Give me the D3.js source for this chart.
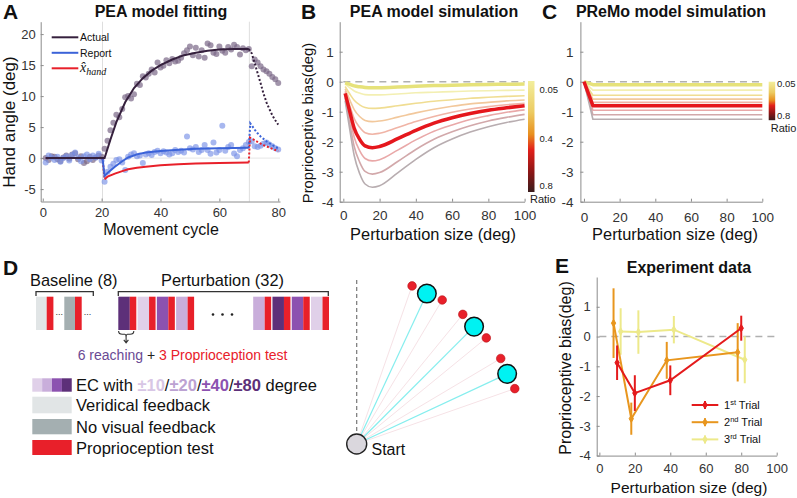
<!DOCTYPE html>
<html>
<head>
<meta charset="utf-8">
<script src="https://cdn.jsdelivr.net/npm/d3@7"></script>
<style>
  body { margin: 0; background: #fff; }
  svg { font-family: "Liberation Sans", Arial, sans-serif; }
  .axis path, .axis line { stroke: #8c8c8c; }
  .axis text { fill: #333; font-size: 13.5px; font-family: "Liberation Sans", Arial, sans-serif; }
  .axis.small text { font-size: 13px; }
</style>
</head>
<body>
<svg id="fig" width="797" height="498"></svg>
<script>
// ---------- data: panel A (hand angle per movement cycle) ----------
const cyclesA = d3.range(1, 81);
const actualDots = [
  0.0, -0.3, 0.3, 0.2, -0.2, -0.5, 0.1, 0.4, -0.1, 0.6, 0.8, -0.2, 0.3, -0.8, -0.5, 0.2, -0.3, 0.1, 0.4, 0.2,
  1.5, 2.8, 4.5, 5.7, 7.0, 6.6, 7.9, 9.8, 10.0, 9.6, 10.3, 12.0, 11.8, 13.2, 13.0, 13.6, 14.3, 13.8, 15.4, 14.6,
  14.9, 15.8, 15.3, 16.0, 15.6, 15.7, 16.2, 16.9, 17.4, 18.0, 16.6, 17.8, 16.4, 17.4, 16.2, 18.5, 18.2, 17.0, 16.8, 18.0,
  17.3, 17.0, 17.9, 17.5, 18.3, 17.9, 16.7, 17.7, 17.4, 17.6,
  14.8, 15.9, 15.4, 14.8, 14.3, 14.0, 13.6, 13.1, 12.7, 12.1
];
const reportDots = [
  -0.7, 0.4, 0.1, -0.3, 0.2, -0.6, 0.0, 0.3, -0.4, 0.5, 0.9, 0.1, -0.5, 0.3, 0.6, -0.2, 0.4, 0.1, 0.7, -0.4,
  -3.8, -2.2, -1.4, -0.9, -0.3, -0.2, -0.7, -1.9, 0.2, 0.6, 0.8, 0.3, 0.4, -0.8, 0.6, 0.8, 0.5, 1.0, 1.2, 0.8,
  1.1, 0.9, 0.6, 0.8, 1.3, 1.0, 1.2, 0.9, 3.5, 1.6, 1.4, 1.8, 1.0, 1.3, 2.1, 1.3, 0.7, 2.5, 0.9, 1.3,
  5.2, 1.2, 1.8, 2.1, 0.75, 0.3, 1.3, 1.6, 2.1, 2.6,
  2.7, 1.9, 1.8, 2.0, 2.3, 2.5, 2.2, 1.9, 1.6, 1.4
];
const actualFit = [[1,0],[21,0],[23,3.0],[25,5.8],[28,9.0],[31,11.3],[34,12.9],[37,14.1],[40,15.0],
  [44,15.9],[48,16.6],[52,17.0],[56,17.3],[60,17.5],[65,17.6],[70,17.6]];
const reportFit = [[1,0],[20.3,0],[21,-2.9],[22,-2.4],[24.5,-1.4],[27,-0.5],[29,0.1],[32,0.6],[35,0.9],
  [40,1.15],[45,1.3],[52,1.5],[60,1.6],[70,1.65]];
const handFit = [[21,-3.4],[22,-3.0],[24.5,-2.5],[27,-2.1],[29,-1.8],[32,-1.55],[35,-1.38],[40,-1.15],
  [46,-0.98],[52,-0.86],[60,-0.78],[70,-0.7]];
const handBase = [[1,0],[20.3,0]];
const handJump = [[20.3,0],[21,-3.4]];
const actualWash = [[70,17.6],[71,16.9],[72,15.3],[73,13.7],[74,12.1],[75,10.4],[76,9.0],[77,7.9],[78,6.9],[79,6.1],[80,5.4]];
const reportWash = [[70,1.65],[70.5,5.6],[72,4.6],[73,4.0],[74,3.5],[75,3.1],[76,2.7],[77,2.4],[78,2.1],[79,1.8],[80,1.6]];
const handWash = [[70,-0.7],[70.4,3.3],[72,2.9],[73,2.6],[74,2.35],[75,2.1],[76,1.9],[77,1.7],[78,1.5],[79,1.3],[80,1.1]];
const phaseEdges = [20.3, 70.2];

// ---------- data: panel B (PEA simulation), one row per ratio ----------
const sizesB = [1, 4, 6, 9, 12, 16, 20, 30, 40, 50, 60, 70, 80, 90, 100];
const peaCurves = [
  [-0.04,-0.10,-0.14,-0.17,-0.19,-0.20,-0.20,-0.18,-0.15,-0.13,-0.12,-0.10,-0.09,-0.085,-0.08],
  [-0.08,-0.22,-0.31,-0.38,-0.43,-0.44,-0.44,-0.41,-0.37,-0.35,-0.33,-0.31,-0.30,-0.29,-0.28],
  [-0.16,-0.45,-0.62,-0.77,-0.86,-0.89,-0.88,-0.80,-0.72,-0.65,-0.60,-0.55,-0.52,-0.49,-0.47],
  [-0.24,-0.67,-0.93,-1.16,-1.29,-1.33,-1.31,-1.18,-1.04,-0.92,-0.82,-0.74,-0.69,-0.64,-0.61],
  [-0.32,-0.88,-1.23,-1.52,-1.70,-1.75,-1.72,-1.53,-1.33,-1.16,-1.02,-0.91,-0.83,-0.77,-0.72],
  [-0.39,-1.10,-1.55,-1.92,-2.14,-2.20,-2.16,-1.90,-1.62,-1.38,-1.20,-1.06,-0.95,-0.87,-0.80],
  [-0.48,-1.32,-1.85,-2.30,-2.56,-2.64,-2.60,-2.28,-1.94,-1.65,-1.44,-1.26,-1.13,-1.02,-0.94],
  [-0.55,-1.54,-2.16,-2.68,-2.99,-3.08,-3.03,-2.66,-2.26,-1.92,-1.67,-1.47,-1.31,-1.19,-1.09],
  [-0.63,-1.76,-2.46,-3.06,-3.41,-3.52,-3.47,-3.04,-2.59,-2.20,-1.91,-1.68,-1.50,-1.36,-1.25]
];
// ---------- data: panel C (PReMo simulation) ----------
const sizesC = [0, 5, 100];
const premoCurves = [
  [0,-0.10,-0.10],[0,-0.28,-0.28],[0,-0.45,-0.45],[0,-0.58,-0.58],[0,-0.69,-0.69],
  [0,-0.80,-0.80],[0,-0.95,-0.95],[0,-1.10,-1.10],[0,-1.25,-1.25]
];
const ratioColors = ["#e6e27a","#f3efb2","#f0dd92","#f2c89c","#f0b4a6","#e5171d","#e9a8a8","#d2a8aa","#b8adb0"];
const ratioWidths = [3.5, 1.6, 1.6, 1.6, 1.6, 3.5, 1.6, 1.6, 1.6];
const ratioTicksB = ["0.05", "0.4", "0.8"];
const ratioTicksC = ["0.05", "0.8"];

// ---------- data: panel E (experiment) ----------
const trialNames = ["1st", "2nd", "3rd"];
const trialX = [[10,20,40,80],[8,18,38,78],[12,22,42,82]];
const trialMean = [[-0.88,-1.9,-1.47,0.28],[0.45,-2.76,-0.8,-0.53],[0.17,0.15,0.23,-0.78]];
const trialSem = [[0.58,0.6,0.5,0.42],[1.17,0.54,0.62,0.98],[0.78,0.73,0.46,0.79]];
const trialColors = ["#e41a1c","#e8961e","#ede98a"];

// ---------- data: panel D (design) ----------
const ecLevels = ["±10", "±20", "±40", "±80"];
const ecColors = ["#e0d0e9","#c9aedb","#8c52b0","#5d3079"];
const ecTextColors = ["#d8c6e5","#bca2d2","#8c52b0","#5d3079"];
const baselineBlocks = ["#e1e5e6", "#a4afb1"];
const pertBlocks = [3, 0, 2, 1, 1, 3, 2, 0];
const pertSlots = [0, 1, 2, 3, 7, 8, 9, 10];
const legendRows = [
  {label: "Veridical feedback", color: "#e1e5e6"},
  {label: "No visual feedback", color: "#a4afb1"},
  {label: "Proprioception test", color: "#e8202a"}
];
const targetAngles = [25, 45, 65];
const feedbackOffsets = [-5.7, 5.7];
const RED = "#e8202a";

const svg = d3.select("#fig");
const fmt = d => String(d);

function axes(x, y, xt, yt, padX, padY, cls) {
  svg.append("g").attr("class", "axis " + (cls || "")).attr("transform", `translate(0,${y.range()[0]})`)
    .call(d3.axisBottom(x).tickValues(xt).tickFormat(fmt).tickSizeInner(-3).tickSizeOuter(0).tickPadding(padX));
  svg.append("g").attr("class", "axis " + (cls || "")).attr("transform", `translate(${x.range()[0]},0)`)
    .call(d3.axisLeft(y).tickValues(yt).tickFormat(fmt).tickSizeInner(-3).tickSizeOuter(0).tickPadding(padY));
}
function label(x, y, s, size, opts = {}) {
  const t = svg.append("text").attr("x", x).attr("y", y).text(s)
    .attr("font-size", size).attr("fill", opts.fill || "#111")
    .attr("text-anchor", opts.anchor || "start")
    .attr("font-weight", opts.bold ? "bold" : null);
  if (opts.rotate) t.attr("x", null).attr("y", null).attr("transform", `translate(${x},${y}) rotate(-90)`);
  return t;
}

// =================== Panel A ===================
const xA = d3.scaleLinear().domain([-0.7, 80.6]).range([40.7, 280]);
const yA = d3.scaleLinear().domain([-7, 22]).range([201.5, 21.7]);
const lineA = d3.line().x(d => xA(d[0])).y(d => yA(d[1]));

svg.append("line").attr("x1", xA(-0.7)).attr("x2", xA(80.6)).attr("y1", yA(0)).attr("y2", yA(0))
  .attr("stroke", "#e6e6e6");
svg.selectAll(".edge").data(phaseEdges).join("line")
  .attr("x1", d => xA(d)).attr("x2", d => xA(d)).attr("y1", yA(22)).attr("y2", yA(-7))
  .attr("stroke", "#dedede");
axes(xA, yA, [0, 20, 40, 60, 80], [-5, 0, 5, 10, 15, 20], 6.5, 5, "small");

svg.append("g").selectAll("circle").data(cyclesA).join("circle")
  .attr("cx", d => xA(d)).attr("cy", (d, i) => yA(actualDots[i])).attr("r", 3)
  .attr("fill", "#7a6888").attr("opacity", 0.7);
svg.append("g").selectAll("circle").data(cyclesA).join("circle")
  .attr("cx", d => xA(d)).attr("cy", (d, i) => yA(reportDots[i])).attr("r", 3)
  .attr("fill", "#7890e6").attr("opacity", 0.65);

const fitLines = [
  {d: handBase, c: RED}, {d: handJump, c: RED, dash: "2,1.5"},
  {d: reportFit, c: "#3b63d8"}, {d: handFit, c: RED}, {d: actualFit, c: "#35203d"},
  {d: actualWash, c: "#35203d", dash: "2,2"}, {d: reportWash, c: "#3b63d8", dash: "2,2"},
  {d: handWash, c: RED, dash: "2,2"}
];
fitLines.forEach(f => svg.append("path").attr("d", lineA(f.d)).attr("fill", "none")
  .attr("stroke", f.c).attr("stroke-width", 2).attr("stroke-dasharray", f.dash || null));

// legend A
const legA = [{c: "#35203d", t: "Actual"}, {c: "#3b63d8", t: "Report"}, {c: RED, t: null}];
legA.forEach((l, i) => {
  const y = 37.3 + i * 15.5;
  svg.append("line").attr("x1", 51.7).attr("x2", 78.3).attr("y1", y).attr("y2", y)
    .attr("stroke", l.c).attr("stroke-width", 2);
  if (l.t) label(80, y + 3.8, l.t, 10.5);
  else {
    const t = svg.append("text").attr("x", 80).attr("y", y + 3.5)
      .attr("font-family", '"Liberation Serif", "DejaVu Serif", serif').attr("font-style", "italic").attr("fill", "#111");
    t.append("tspan").attr("font-size", 14).text("x\u0302");
    t.append("tspan").attr("font-size", 10).attr("dy", 3).text("hand");
  }
});
label(3, 19, "A", 21, {bold: true});
label(161, 17, "PEA model fitting", 16, {bold: true, anchor: "middle"});
label(15, 122, "Hand angle (deg)", 17, {anchor: "middle", rotate: true});
label(161, 234.5, "Movement cycle", 16, {anchor: "middle"});

// =================== Panels B and C ===================
const yBC = d3.scaleLinear().domain([-4, 2]).range([201.7, 21.7]);
const xB = d3.scaleLinear().domain([-2, 100]).range([339.7, 524.6]);
const xC = d3.scaleLinear().domain([-2, 100]).range([580.4, 762.3]);

const grad = svg.append("defs").append("linearGradient").attr("id", "hotbar")
  .attr("x1", 0).attr("x2", 0).attr("y1", 0).attr("y2", 1);
[[0, "#f2ee9c"], [0.28, "#eccb62"], [0.48, "#e8901f"], [0.62, "#e2201a"], [0.82, "#8c1616"], [1, "#3a1c1c"]]
  .forEach(s => grad.append("stop").attr("offset", s[0]).attr("stop-color", s[1]));

function simPanel(x, sizes, curves, padX, padY, curve) {
  svg.append("line").attr("x1", x(0)).attr("x2", x(100)).attr("y1", yBC(0)).attr("y2", yBC(0))
    .attr("stroke", "#b0b0b0").attr("stroke-width", 1.5).attr("stroke-dasharray", "7,5");
  axes(x, yBC, [0, 20, 40, 60, 80, 100], [-4, -3, -2, -1, 0, 1], padX, padY);
  const ln = d3.line().x((d, i) => x(sizes[i])).y(d => yBC(d)).curve(curve);
  const order = d3.range(curves.length).sort((a, b) => ratioWidths[a] - ratioWidths[b]);
  order.forEach(k => svg.append("path").attr("d", ln(curves[k])).attr("fill", "none")
    .attr("stroke", ratioColors[k]).attr("stroke-width", ratioWidths[k]).attr("stroke-linejoin", "round"));
}
simPanel(xB, sizesB, peaCurves, 9, 6, d3.curveMonotoneX);
simPanel(xC, sizesC, premoCurves, 11, 7, d3.curveLinear);

function colorbar(x0, y0, h, ticks, tickY, ratioY, tickDx) {
  svg.append("rect").attr("x", x0).attr("y", y0).attr("width", 6.5).attr("height", h).attr("fill", "url(#hotbar)");
  ticks.forEach((t, i) => label(x0 + tickDx, tickY[i], t, 9.5, {fill: "#222"}));
  label(x0 + 2, ratioY, "Ratio", 11, {fill: "#222"});
}
colorbar(528, 81, 111, ratioTicksB, [93, 141.5, 189], 203, 11.5);
colorbar(768.7, 81.7, 38.5, ratioTicksC, [86.5, 119], 131.5, 8.3);

label(301, 19, "B", 21, {bold: true});
label(434, 17, "PEA model simulation", 16, {bold: true, anchor: "middle"});
label(313, 123, "Proprioceptive bias(deg)", 14.8, {anchor: "middle", rotate: true});
label(433, 240, "Perturbation size (deg)", 16.4, {anchor: "middle"});
label(542, 19, "C", 21, {bold: true});
label(671, 17, "PReMo model simulation", 16, {bold: true, anchor: "middle"});
label(675, 240, "Perturbation size (deg)", 16.4, {anchor: "middle"});

// =================== Panel D ===================
label(3, 275, "D", 21, {bold: true});
label(30, 286, "Baseline (8)", 16.4);
label(161, 286, "Perturbation (32)", 16.4);
const bracket = (a, b) => `M${a},296 V291.7 H${b} V296`;
svg.append("path").attr("d", bracket(36, 93.3)).attr("fill", "none").attr("stroke", "#333").attr("stroke-width", 1.3);
svg.append("path").attr("d", bracket(118.3, 328.3)).attr("fill", "none").attr("stroke", "#333").attr("stroke-width", 1.3);

const blockTop = 296.7, blockH = 33.3;
const xBase = d3.scaleLinear().domain([0, 1]).range([36, 64.3]);
baselineBlocks.forEach((c, i) => {
  svg.append("rect").attr("x", xBase(i)).attr("y", blockTop).attr("width", 10.7).attr("height", blockH).attr("fill", c);
  svg.append("rect").attr("x", xBase(i) + 10.7).attr("y", blockTop).attr("width", 6.7).attr("height", blockH).attr("fill", RED);
  label(xBase(i) + 19.5, 315, "...", 9, {fill: "#333"});
});
const xSlot = d3.scaleLinear().domain([0, 10]).range([118.3, 311]);
pertBlocks.forEach((lvl, i) => {
  const x0 = xSlot(pertSlots[i]);
  svg.append("rect").attr("x", x0).attr("y", blockTop).attr("width", 11.5).attr("height", blockH).attr("fill", ecColors[lvl]);
  svg.append("rect").attr("x", x0 + 11.5).attr("y", blockTop).attr("width", 6.5).attr("height", blockH).attr("fill", RED);
});
[0, 1, 2].forEach(i => svg.append("circle").attr("cx", 213 + i * 9.5).attr("cy", 314.5).attr("r", 1.3).attr("fill", "#222"));
svg.append("path").attr("d", "M118.6,331 q0,3.3 3.8,3.3 h2.4 q1.2,0 1.3,2.4 q0.1,-2.4 1.3,-2.4 h2.6 q3.8,0 3.8,-3.3")
  .attr("fill", "none").attr("stroke", "#333").attr("stroke-width", 1.1);
svg.append("path").attr("d", "M126.1,336.5 V342.5 M123.8,339.8 L126.1,342.8 L128.4,339.8")
  .attr("fill", "none").attr("stroke", "#333").attr("stroke-width", 1.1);
const note = svg.append("text").attr("x", 77.7).attr("y", 360).attr("font-size", 14);
note.append("tspan").attr("fill", "#6a4a94").text("6 reaching");
note.append("tspan").attr("fill", "#222").text(" + ");
note.append("tspan").attr("fill", RED).text("3 Proprioception test");

// legend D
ecColors.forEach((c, i) => svg.append("rect").attr("x", 32.3 + i * 9.85).attr("y", 378.3)
  .attr("width", 9.9).attr("height", 13.4).attr("fill", c));
const ecText = svg.append("text").attr("x", 76).attr("y", 391).attr("font-size", 16.5).attr("fill", "#111");
ecText.append("tspan").text("EC with ");
ecLevels.forEach((lv, i) => {
  ecText.append("tspan").attr("font-weight", "bold").attr("fill", ecTextColors[i]).text(lv);
  ecText.append("tspan").text(i < ecLevels.length - 1 ? "/" : " degree");
});
const rowY = [396.7, 419, 440], rowH = [16.6, 15.3, 15], rowBase = [411, 433, 453.5];
legendRows.forEach((r, i) => {
  svg.append("rect").attr("x", 32.3).attr("y", rowY[i]).attr("width", 39.4).attr("height", rowH[i]).attr("fill", r.color);
  label(76, rowBase[i], r.label, 16.5);
});

// reach diagram
const start = {x: 356.7, y: 444};
const reachR = 166;
const polar = (deg, r) => ({x: start.x + r * Math.sin(deg * Math.PI / 180), y: start.y - r * Math.cos(deg * Math.PI / 180)});
svg.append("line").attr("x1", start.x).attr("x2", start.x).attr("y1", 280).attr("y2", 433)
  .attr("stroke", "#777").attr("stroke-width", 1.2).attr("stroke-dasharray", "4,3");
targetAngles.forEach(a => {
  feedbackOffsets.forEach(o => {
    const p = polar(a + o, reachR + 1.5);
    svg.append("line").attr("x1", start.x).attr("y1", start.y).attr("x2", p.x).attr("y2", p.y)
      .attr("stroke", "#f6e2e6").attr("stroke-width", 1);
  });
  const t = polar(a, reachR);
  svg.append("line").attr("x1", start.x).attr("y1", start.y).attr("x2", t.x).attr("y2", t.y)
    .attr("stroke", "#86eeee").attr("stroke-width", 1.2);
});
targetAngles.forEach(a => {
  const t = polar(a, reachR);
  svg.append("circle").attr("cx", t.x).attr("cy", t.y).attr("r", 9.3)
    .attr("fill", "#00f2f2").attr("stroke", "#111").attr("stroke-width", 1.5);
  feedbackOffsets.forEach(o => {
    const p = polar(a + o, reachR + 1.5);
    svg.append("circle").attr("cx", p.x).attr("cy", p.y).attr("r", 4.3).attr("fill", RED)
      .attr("stroke", "#b8141a").attr("stroke-width", 0.6);
  });
});
svg.append("circle").attr("cx", start.x).attr("cy", start.y).attr("r", 10)
  .attr("fill", "#dad7dd").attr("stroke", "#222").attr("stroke-width", 1.4);
label(371.5, 455, "Start", 16);

// =================== Panel E ===================
const xE = d3.scaleLinear().domain([-1.5, 100]).range([596.7, 776.7]);
const yE = d3.scaleLinear().domain([-4, 2]).range([455.6, 277]);
svg.append("line").attr("x1", xE(0)).attr("x2", xE(100)).attr("y1", yE(0)).attr("y2", yE(0))
  .attr("stroke", "#b0b0b0").attr("stroke-width", 1.5).attr("stroke-dasharray", "7,5");
axes(xE, yE, [0, 20, 40, 60, 80, 100], [-4, -3, -2, -1, 0, 1], 8.5, 6, "small");
const lineE = d3.line().x(d => xE(d[0])).y(d => yE(d[1]));
const diamond = d3.symbol().type(d3.symbolDiamond).size(16);
[2, 1, 0].forEach(k => {
  const pts = trialX[k].map((x, i) => [x, trialMean[k][i]]);
  const g = svg.append("g").attr("stroke", trialColors[k]).attr("fill", trialColors[k]);
  g.append("path").attr("d", lineE(pts)).attr("fill", "none").attr("stroke-width", 2);
  g.selectAll("line").data(pts).join("line")
    .attr("x1", d => xE(d[0])).attr("x2", d => xE(d[0]))
    .attr("y1", (d, i) => yE(d[1] - trialSem[k][i])).attr("y2", (d, i) => yE(d[1] + trialSem[k][i]))
    .attr("stroke-width", 2);
  g.selectAll(".mk").data(pts).join("path").attr("class", "mk").attr("d", diamond)
    .attr("transform", d => `translate(${xE(d[0])},${yE(d[1])})`);
});
trialNames.forEach((n, k) => {
  const y = 405 + k * 17.2;
  const g = svg.append("g").attr("stroke", trialColors[k]).attr("fill", trialColors[k]);
  g.append("line").attr("x1", 691.7).attr("x2", 718.3).attr("y1", y).attr("y2", y).attr("stroke-width", 2);
  g.append("line").attr("x1", 705).attr("x2", 705).attr("y1", y - 4).attr("y2", y + 4).attr("stroke-width", 2);
  g.append("path").attr("d", diamond).attr("transform", `translate(705,${y})`);
  const t = svg.append("text").attr("x", 724).attr("y", y + 4).attr("font-size", 11).attr("fill", "#111");
  t.append("tspan").text(n.slice(0, 1));
  t.append("tspan").attr("font-size", 7.5).attr("dy", -4.5).text(n.slice(1));
  t.append("tspan").attr("dy", 4.5).text(" Trial");
});
label(555, 273, "E", 21, {bold: true});
label(689, 273, "Experiment data", 16, {bold: true, anchor: "middle"});
label(571, 368, "Proprioceptive bias(deg)", 16, {anchor: "middle", rotate: true});
label(689, 492.5, "Perturbation size (deg)", 15.5, {anchor: "middle"});
</script>
</body>
</html>
